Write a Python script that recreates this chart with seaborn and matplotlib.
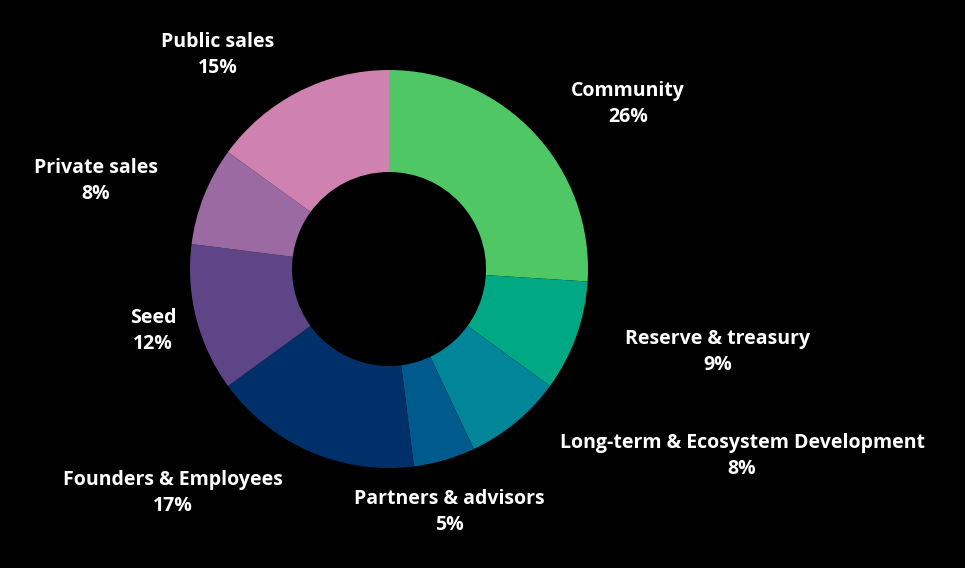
import matplotlib.pyplot as plt
import seaborn as sns

# data (clockwise from top)
categories = ['Community', 'Reserve & treasury', 'Long-term & Ecosystem Development',
              'Partners & advisors', 'Founders & Employees', 'Seed',
              'Private sales', 'Public sales']
shares = [26, 9, 8, 5, 17, 12, 8, 15]
colors = ['#4fc764', '#00a884', '#008599', '#005a8c', '#00306a',
          '#5d4587', '#9b6aa3', '#cf82b0']

# label centres in pixel coords (y measured from top)
label_pos = [(628, 104), (718, 352), (742, 456), (449, 512),
             (173, 493), (153, 331), (96, 181), (218, 55)]

sns.set_style('dark')
plt.rcParams['font.family'] = ['Open Sans', 'DejaVu Sans']

W, H = 965, 568
fig = plt.figure(figsize=(W / 100, H / 100), dpi=100, facecolor='black')
ax = fig.add_axes([0, 0, 1, 1])
ax.set_facecolor('black')

ax.pie(shares, colors=colors, startangle=90, counterclock=False,
       center=(389, H - 269), radius=199,
       wedgeprops=dict(width=102, edgecolor='none'))

# pie() resets the limits, so set them afterwards
ax.set_xlim(0, W)
ax.set_ylim(0, H)
ax.set_aspect('equal')
ax.axis('off')

for name, val, (x, y) in zip(categories, shares, label_pos):
    ax.text(x, H - y, f'{name}\n{val}%', color='white', fontsize=14,
            fontweight='bold', ha='center', va='center', linespacing=1.45)

fig.savefig('out.png', dpi=100, facecolor='black')
